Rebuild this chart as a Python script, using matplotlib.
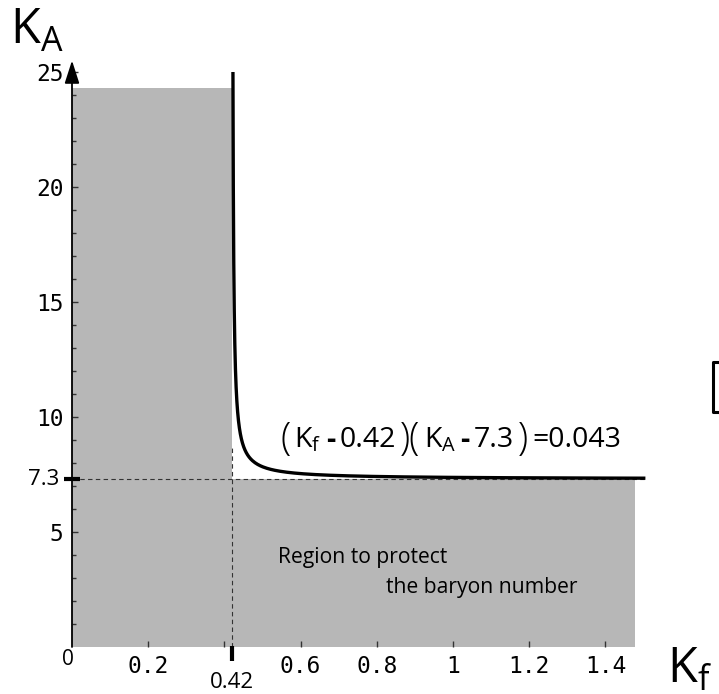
import numpy as np
import matplotlib
matplotlib.use("Agg")
import matplotlib.pyplot as plt
from matplotlib.lines import Line2D
from matplotlib.offsetbox import TextArea, HPacker, AnnotationBbox

plt.rcParams["mathtext.fontset"] = "custom"
plt.rcParams["mathtext.rm"] = "Open Sans"
plt.rcParams["mathtext.it"] = "Open Sans:italic"
plt.rcParams["mathtext.bf"] = "Open Sans:bold"

# ---- data ----
kf0 = 0.42          # K_f offset
ka0 = 7.3           # K_A offset
const = 0.043       # product constant
kf_end = 1.505      # end of the drawn curve
ka_top = 25.0       # top of the drawn curve
shade_top = 24.3    # top of grey region left of 0.42
shade_right = 1.478 # right edge of grey region
xtick_vals = [0.2, 0.4, 0.6, 0.8, 1.0, 1.2, 1.4]
xtick_labels = ["0.2", "", "0.6", "0.8", "1", "1.2", "1.4"]
ytick_vals = [5, 10, 15, 20, 25]
ytick_labels = ["5", "10", "15", "20", "25"]

W, H = 719, 694
fig = plt.figure(figsize=(W / 100, H / 100), dpi=100)
x0_px, y0_px = 72, 647
sx, sy = 381.0, 23.0
xmax, ymax = 1.6, 26.5
ax = fig.add_axes([x0_px / W, (H - y0_px) / H, xmax * sx / W, ymax * sy / H])
ax.set_xlim(0, xmax)
ax.set_ylim(0, ymax)
for s in ax.spines.values():
    s.set_visible(False)

grey = "#b7b7b7"
ax.fill_between([0, kf0], 0, shade_top, color=grey, lw=0, zorder=0)
ax.fill_between([kf0, shade_right], 0, ka0, color=grey, lw=0, zorder=0)

# dashed guide lines
ax.plot([0, kf_end], [ka0, ka0], ls=(0, (4, 3)), color="#333333", lw=0.8, zorder=2)
ax.plot([kf0, kf0], [0, ka0 + 1.5], ls=(0, (4, 3)), color="#333333", lw=0.8, zorder=2)

# hyperbola
kf_start = kf0 + const / (ka_top - ka0)
kf = np.concatenate([np.linspace(kf_start, kf0 + 0.05, 400), np.linspace(kf0 + 0.05, kf_end, 300)])
ka = ka0 + const / (kf - kf0)
ax.plot(kf, ka, color="black", lw=2.4, solid_capstyle="butt", zorder=4)

# y axis with arrow
ax.annotate("", xy=(0, 25.5), xytext=(0, 0), xycoords="data",
            arrowprops=dict(arrowstyle="-|>,head_length=1.4,head_width=0.45", color="black", lw=1.3,
                            shrinkA=0, shrinkB=0), annotation_clip=False, zorder=5)

mono = "DejaVu Sans Mono"
sans = "Open Sans"
ax.set_xticks(xtick_vals)
ax.set_xticklabels(xtick_labels, fontfamily=mono, fontsize=16.5)
ax.set_yticks(ytick_vals)
ax.set_yticklabels(ytick_labels, fontfamily=mono, fontsize=16.5)
ax.set_yticks(np.arange(1, 26, 1), minor=True)
ax.tick_params(axis="x", direction="in", length=4, width=1, color="#333333", pad=6)
ax.tick_params(axis="y", direction="in", length=4, width=1, color="#333333", pad=6)
ax.tick_params(axis="y", which="minor", direction="in", length=3, width=1, color="#333333")
ax.tick_params(axis="x", which="minor", length=0)

# special ticks
ax.plot([-0.021, 0.021], [ka0, ka0], color="black", lw=3, clip_on=False, zorder=6, solid_capstyle="butt")
ax.plot([kf0, kf0], [-0.6, 0.05], color="black", lw=3, clip_on=False, zorder=6, solid_capstyle="butt")
ax.text(-0.034, ka0, "7.3", ha="right", va="center", fontfamily=sans, fontsize=16)
ax.text(-0.01, -0.55, "0", ha="center", va="center", fontfamily=sans, fontsize=15)
ax.text(kf0, -1.55, "0.42", ha="center", va="center", fontfamily=sans, fontsize=16)

# equation, built from pieces so the brackets can be taller
big = dict(fontfamily=sans, fontsize=27, fontweight="light")
mid = dict(fontfamily=sans, fontsize=20.5)
dash = dict(mid, fontweight="bold")
pieces = [
    ("(", big), (r"K$_{\mathregular{f}}$", mid), ("-", dash), ("0.42", mid),
    (")(", big), (r"K$_{\mathregular{A}}$", mid), ("-", dash),
    ("7.3", mid), (")", big), ("=0.043", mid),
]
areas = [TextArea(t, textprops=p) for t, p in pieces]
pack = HPacker(children=areas, align="center", pad=0, sep=3)
ab = AnnotationBbox(pack, (0.546, 9.0), xycoords="data", box_alignment=(0, 0.5),
                    frameon=False, pad=0, zorder=6)
ax.add_artist(ab)

# region label
ax.text(0.54, 3.9, "Region to protect", ha="left", va="center", fontfamily=sans, fontsize=15.2)
ax.text(0.824, 2.6, "the baryon number", ha="left", va="center", fontfamily=sans, fontsize=15.2)

# axis titles
fig.text(10 / W, 1 - 31 / H, r"K$_{\mathregular{A}}$", fontfamily=sans, fontsize=35, ha="left", va="center")
fig.text(667 / W, 1 - 670 / H, r"K$_{\mathregular{f}}$", fontfamily=sans, fontsize=35, ha="left", va="center")

# cropped bracket at right edge
fig.add_artist(Line2D([719 / W, 713 / W, 713 / W, 719 / W],
                      [1 - 362 / H, 1 - 362 / H, 1 - 412 / H, 1 - 412 / H],
                      color="black", lw=2.2))

fig.savefig("out.png", dpi=100)
